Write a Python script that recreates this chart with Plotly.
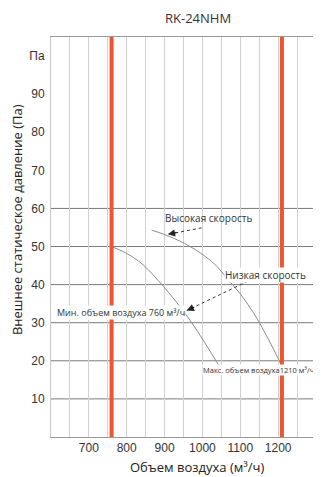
import plotly.graph_objects as go

# ---- data ----
low_x = [760, 796, 831, 857, 883, 910, 932, 953, 971, 988, 1006, 1024, 1037, 1046]
low_y = [50, 48.4, 46.2, 43.9, 41.1, 38.0, 35.3, 32.6, 30.1, 27.6, 24.8, 21.9, 19.8, 18.2]
high_x = [866, 901, 953, 1006, 1040, 1067, 1094, 1120, 1146, 1168, 1190, 1208]
high_y = [54.3, 53.1, 50.8, 47.5, 44.6, 41.4, 38.3, 34.8, 30.8, 26.8, 22.6, 19]
min_flow = 760
max_flow = 1210
x_tick_vals = [700, 800, 900, 1000, 1100, 1200]
y_tick_vals = [10, 20, 30, 40, 50, 60, 70, 80, 90, 100]
y_tick_text = ["10", "20", "30", "40", "50", "60", "70", "80", "90", "Па"]
y_grid_vals = [10, 20, 30, 40, 50, 60]

title_text = "RK-24NHM"
x_title = "Объем воздуха (м³/ч)"
y_title = "Внешнее статическое давление (Па)"
label_high = "Высокая скорость"
label_low = "Низкая скорость"
label_min = "Мин. объем воздуха 760 м³/ч"
label_max = "Макс. объем воздуха1210 м³/ч"

Y_MAX = 105
RED = "#EE5530"
CURVE = "#8a8a8a"

fig = go.Figure()

# horizontal grid lines (only 10..60 in the reference)
for gv in y_grid_vals:
    fig.add_shape(type="line", xref="paper", x0=0, x1=1, yref="y", y0=gv, y1=gv,
                  line=dict(color="#7a7a7a", width=1), layer="below")

# fan curves
fig.add_trace(go.Scatter(x=low_x, y=low_y, mode="lines", line=dict(color=CURVE, width=1, shape="spline"),
                         hoverinfo="skip", showlegend=False))
fig.add_trace(go.Scatter(x=high_x, y=high_y, mode="lines", line=dict(color=CURVE, width=1, shape="spline"),
                         hoverinfo="skip", showlegend=False))

# min / max airflow limits
for fx in [min_flow, max_flow]:
    fig.add_trace(go.Scatter(x=[fx, fx], y=[0, Y_MAX], mode="lines", line=dict(color=RED, width=4),
                             hoverinfo="skip", showlegend=False))

# dashed leader lines
arrow_high = dict(tail=(998, 54.9), tip=(908.7, 53.2), d=(10, -2))
arrow_low = dict(tail=(1120, 40.9), tip=(958.7, 33.2), d=(9, -4))
for a in [arrow_high, arrow_low]:
    fig.add_trace(go.Scatter(x=[a["tail"][0], a["tip"][0]], y=[a["tail"][1], a["tip"][1]], mode="lines",
                             line=dict(color="#333", width=1, dash="dot"), hoverinfo="skip", showlegend=False))
    fig.add_annotation(x=a["tip"][0], y=a["tip"][1], ax=a["d"][0], ay=a["d"][1], text="",
                       showarrow=True, arrowhead=2, arrowsize=1.2, arrowwidth=1.2, arrowcolor="#222")

lab_font = dict(family="Open Sans, sans-serif", color="#333")
fig.add_annotation(x=1016, y=57.5, text=label_high, showarrow=False, font=dict(size=10, **lab_font))
fig.add_annotation(x=1167, y=42.6, text=label_low, showarrow=False, font=dict(size=10, **lab_font),
                   bgcolor="white", borderpad=0)
fig.add_annotation(x=785, y=32.6, text=label_min, showarrow=False, font=dict(size=9, **lab_font),
                   bgcolor="white", borderpad=0)
fig.add_annotation(x=998, y=17.5, text=label_max, showarrow=False, font=dict(size=7.5, **lab_font),
                   xanchor="left", bgcolor="white", borderpad=0)

# titles
fig.add_annotation(xref="paper", yref="paper", x=0.555, y=1.0475, text=title_text, showarrow=False,
                   font=dict(family="Open Sans, sans-serif", size=13, color="#333"), yanchor="middle")
fig.add_annotation(xref="paper", yref="paper", x=0.551, y=-0.075, text=x_title, showarrow=False,
                   font=dict(family="Open Sans, sans-serif", size=13, color="#222"), yanchor="middle")
fig.add_annotation(xref="paper", yref="paper", x=-0.128, y=0.5425, text=y_title, showarrow=False,
                   textangle=-90, font=dict(family="Open Sans, sans-serif", size=13, color="#222"),
                   xanchor="center", yanchor="middle")

fig.update_xaxes(range=[600, 1300], tickmode="array", tickvals=x_tick_vals, showgrid=False,
                 ticks="", zeroline=False, showline=True, linecolor="#999", linewidth=1, mirror=True,
                 tickfont=dict(family="Liberation Sans, Arial", size=12, color="#333"),
                 minor=dict(showgrid=True, tickmode="linear", tick0=600, dtick=50,
                            gridcolor="#d0d0d0", gridwidth=1, ticks=""))
fig.update_yaxes(range=[0, Y_MAX], tickmode="array", tickvals=y_tick_vals, ticktext=y_tick_text,
                 showgrid=False, ticks="", zeroline=False, showline=True, linecolor="#c8c8c8",
                 mirror=True, ticklabelstandoff=3,
                 tickfont=dict(family="Liberation Sans, Arial", size=12, color="#333"))

# the page body adds an 8px margin, so the figure is offset by 8px to line up with the window
fig.update_layout(width=313, height=469, margin=dict(l=43, r=5, t=29, b=40),
                  plot_bgcolor="white", paper_bgcolor="white", showlegend=False)

fig.write_html("out.html")
